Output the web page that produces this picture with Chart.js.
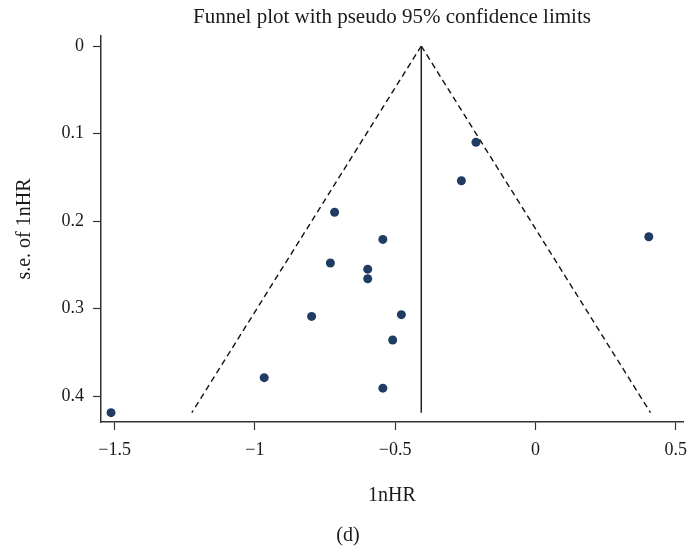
<!DOCTYPE html>
<html>
<head>
<meta charset="utf-8">
<script src="https://cdn.jsdelivr.net/npm/chart.js@4/dist/chart.umd.min.js"></script>
<style>
  html, body { margin: 0; padding: 0; background: #ffffff; }
  #wrap { width: 688px; height: 546px; }
</style>
</head>
<body>
<div id="wrap"><canvas id="c" width="688" height="546"></canvas></div>
<script>
// ---- data ----
const lnHR   = [-0.212, -0.264, 0.404, -0.716, -0.544, -0.731, -0.598, -0.598, -0.798, -0.478, -0.509, -0.967, -0.544, -1.513];
const seLnHR = [ 0.110,  0.154, 0.218,  0.190,  0.221,  0.248,  0.255,  0.266,  0.309,  0.307,  0.336,  0.379,  0.391,  0.419];

const pooledLnHR  = -0.407;
const funnelSe    = [0, 0.419];
const funnelLower = [-0.407, -1.225];
const funnelUpper = [-0.407, 0.410];

const xTicks = [-1.5, -1, -0.5, 0, 0.5];
const xTickLabels = ['\u22121.5', '\u22121', '\u22120.5', '0', '0.5'];
const yTicks = [0, 0.1, 0.2, 0.3, 0.4];
const yTickLabels = ['0', '0.1', '0.2', '0.3', '0.4'];

const titleText = 'Funnel plot with pseudo 95% confidence limits';
const xTitle = '1nHR';
const yTitle = 's.e. of 1nHR';
const panelLabel = '(d)';

// ---- build ----
const pts = lnHR.map((x, i) => ({ x: x, y: seLnHR[i] }));
const lower = funnelSe.map((s, i) => ({ x: funnelLower[i], y: s }));
const upper = funnelSe.map((s, i) => ({ x: funnelUpper[i], y: s }));
const centre = funnelSe.map(s => ({ x: pooledLnHR, y: s }));

const FONT = "'Liberation Serif', 'Times New Roman', serif";
const TXT = '#1a1a1a';
const AX = '#333333';

new Chart(document.getElementById('c'), {
  type: 'scatter',
  data: {
    datasets: [
      { data: pts, pointRadius: 4.5, pointHoverRadius: 4.5, pointBackgroundColor: '#1f3c63', pointBorderWidth: 0, showLine: false },
      { data: centre, showLine: true, borderColor: '#222222', borderWidth: 1.5, pointRadius: 0 },
      { data: lower, showLine: true, borderColor: '#111111', borderWidth: 1.4, borderDash: [6, 4], pointRadius: 0 },
      { data: upper, showLine: true, borderColor: '#111111', borderWidth: 1.4, borderDash: [6, 4], pointRadius: 0 }
    ]
  },
  options: {
    responsive: false,
    animation: false,
    events: [],
    layout: { padding: { left: 13, right: 5, top: 0, bottom: 0 } },
    plugins: {
      legend: { display: false },
      tooltip: { enabled: false },
      title: {
        display: true, text: titleText, fullSize: false, color: TXT,
        font: { family: FONT, size: 21, weight: 'normal', lineHeight: 1.2 },
        padding: { top: 4.5, bottom: 6.3 }
      },
      subtitle: {
        display: true, text: panelLabel, position: 'bottom', color: TXT,
        font: { family: FONT, size: 20, weight: 'normal', lineHeight: 1 },
        padding: { top: 0, bottom: 0.5 }
      }
    },
    scales: {
      x: {
        type: 'linear', position: 'bottom',
        min: -1.5488, max: 0.526,
        afterBuildTicks: s => { s.ticks = xTicks.map(v => ({ value: v })); },
        afterFit: s => { s.height = 103.5; s.paddingLeft = 0; s.paddingRight = 0; },
        ticks: {
          color: TXT, padding: 9, maxRotation: 0, autoSkip: false,
          font: { family: FONT, size: 18, lineHeight: 1.2 },
          callback: function (v) { const i = xTicks.indexOf(v); return i >= 0 ? xTickLabels[i] : ''; }
        },
        grid: { display: true, drawOnChartArea: false, drawTicks: true, tickLength: 8, tickColor: AX, tickWidth: 1.2 },
        border: { display: true, color: AX, width: 1.5 },
        title: {
          display: true, text: xTitle, color: TXT,
          font: { family: FONT, size: 20, lineHeight: 1.2 },
          padding: { top: 0, bottom: 17.5 }
        }
      },
      y: {
        type: 'linear', position: 'left', reverse: true,
        min: -0.01143, max: 0.4297,
        afterBuildTicks: s => { s.ticks = yTicks.map(v => ({ value: v })); },
        afterFit: s => { s.width = 88; s.paddingTop = 0; s.paddingBottom = 0; },
        ticks: {
          color: TXT, padding: 9, autoSkip: false,
          font: { family: FONT, size: 18, lineHeight: 1.2 },
          callback: function (v) { const i = yTicks.indexOf(v); return i >= 0 ? yTickLabels[i] : ''; }
        },
        grid: { display: true, drawOnChartArea: false, drawTicks: true, tickLength: 8, tickColor: AX, tickWidth: 1.2 },
        border: { display: true, color: AX, width: 1.5 },
        title: {
          display: true, text: yTitle, color: TXT,
          font: { family: FONT, size: 20, lineHeight: 1.2 },
          padding: { top: 0, bottom: 0 }
        }
      }
    }
  }
});
</script>
</body>
</html>
